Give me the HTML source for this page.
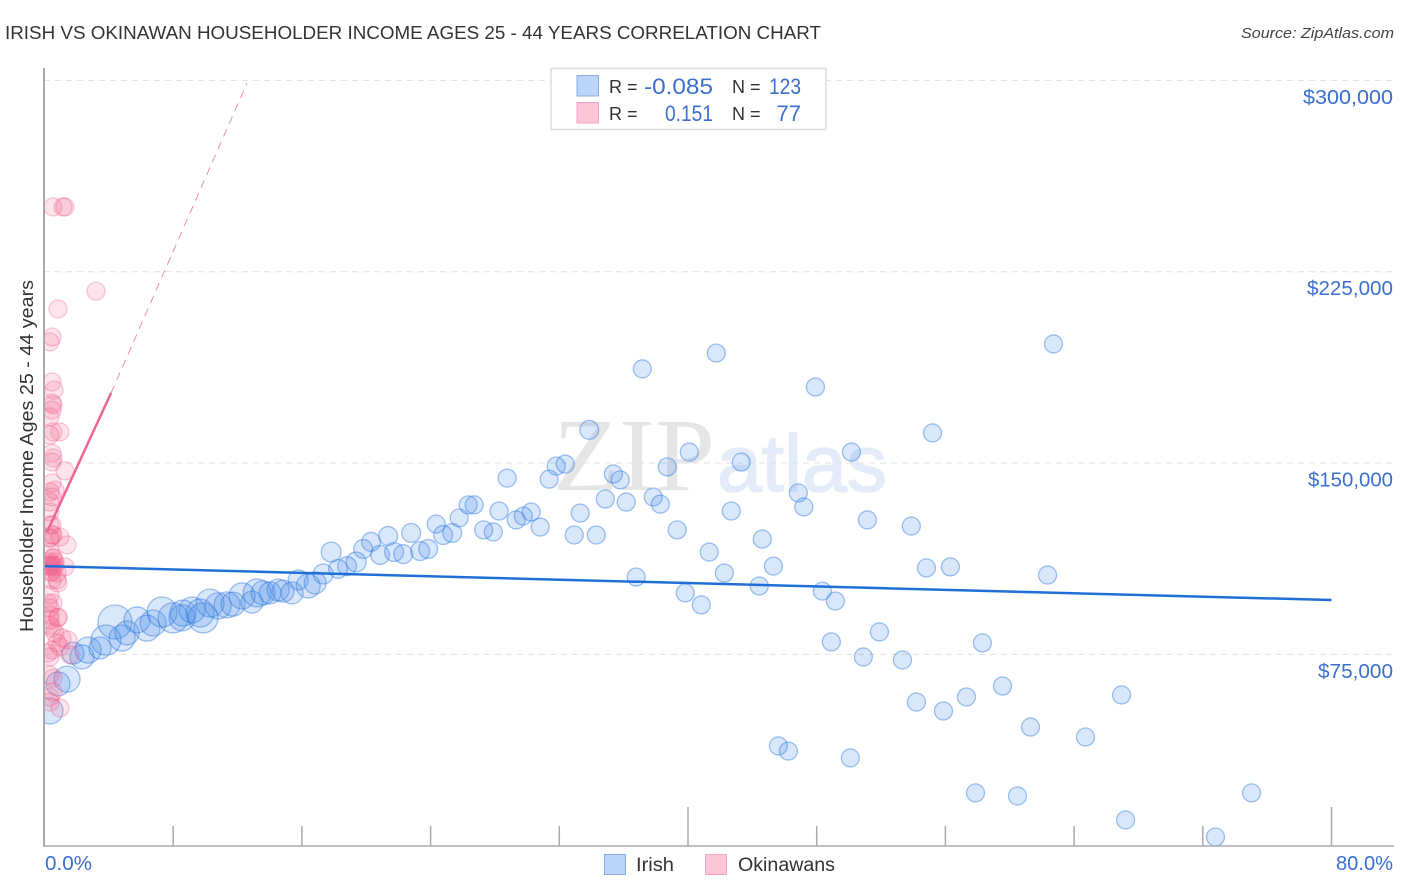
<!DOCTYPE html>
<html lang="en">
<head>
<meta charset="utf-8">
<title>Irish vs Okinawan Householder Income Correlation Chart</title>
<style>
html,body{margin:0;padding:0;background:#fff;width:1406px;height:892px;overflow:hidden}
svg{display:block;font-family:"Liberation Sans",sans-serif}
</style>
</head>
<body>
<svg id="chart" xmlns="http://www.w3.org/2000/svg" width="1406" height="892" viewBox="0 0 1406 892">
  <defs>
    <clipPath id="plot-clip"><rect x="44" y="60" width="1350" height="786"/></clipPath>
  </defs>
  <rect width="1406" height="892" fill="#fff"/>
  <text x="5" y="39" font-size="18" fill="#333" textLength="816" lengthAdjust="spacingAndGlyphs">IRISH VS OKINAWAN HOUSEHOLDER INCOME AGES 25 - 44 YEARS CORRELATION CHART</text>
  <text x="1394" y="38" font-size="15" font-style="italic" fill="#444" text-anchor="end" textLength="153" lengthAdjust="spacingAndGlyphs">Source: ZipAtlas.com</text>
  <g>
    <text x="553" y="490" font-family="'Liberation Serif',serif" font-size="104" fill="#e6e6e6" textLength="162" lengthAdjust="spacingAndGlyphs">ZIP</text>
    <text x="717" y="491" font-family="'Liberation Sans',sans-serif" font-size="80" fill="#e4ecfa" stroke="#e4ecfa" stroke-width="1.500" textLength="170" lengthAdjust="spacingAndGlyphs">atlas</text>
  </g>
  <g id="grid"></g>
  <g id="irish-points" clip-path="url(#plot-clip)"></g>
  <g id="okinawan-points" clip-path="url(#plot-clip)"></g>
  <g id="trends"></g>
  <g id="axes"></g>
  <text transform="translate(33,456) rotate(-90)" font-size="18" fill="#333" text-anchor="middle" textLength="352" lengthAdjust="spacingAndGlyphs">Householder Income Ages 25 - 44 years</text>
  <g>
    <rect x="551" y="68.500" width="275" height="61" fill="#fff" stroke="#ddd" stroke-width="1.500"/>
    <rect x="577" y="75.500" width="21.500" height="20.500" fill="#bcd5f7" stroke="#86aee0" stroke-width="1"/>
    <rect x="577" y="102.500" width="21.500" height="20.500" fill="#fcc6d6" stroke="#f2a7bf" stroke-width="1"/>
    <text x="609" y="93" font-size="18" fill="#333">R =</text>
    <text x="713" y="94" font-size="22" fill="#3b6fd0" text-anchor="end" textLength="69" lengthAdjust="spacingAndGlyphs">-0.085</text>
    <text x="732" y="93" font-size="18" fill="#333">N =</text>
    <text x="801" y="94" font-size="22" fill="#3b6fd0" text-anchor="end" textLength="32" lengthAdjust="spacingAndGlyphs">123</text>
    <text x="609" y="120" font-size="18" fill="#333">R =</text>
    <text x="713" y="121" font-size="22" fill="#3b6fd0" text-anchor="end" textLength="48" lengthAdjust="spacingAndGlyphs">0.151</text>
    <text x="732" y="120" font-size="18" fill="#333">N =</text>
    <text x="801" y="121" font-size="22" fill="#3b6fd0" text-anchor="end">77</text>
  </g>
  <g>
    <rect x="604.500" y="854.500" width="21" height="20" fill="#bcd5f7" stroke="#86aee0" stroke-width="1"/>
    <text x="636" y="871" font-size="19" fill="#333" textLength="38" lengthAdjust="spacingAndGlyphs">Irish</text>
    <rect x="705.500" y="854.500" width="21" height="20" fill="#fcc6d6" stroke="#f2a7bf" stroke-width="1"/>
    <text x="738" y="871" font-size="19" fill="#333" textLength="97" lengthAdjust="spacingAndGlyphs">Okinawans</text>
  </g>
</svg>
<script>
const yTickValues = [75000, 150000, 225000, 300000];
const yTickLabels = ["$75,000", "$150,000", "$225,000", "$300,000"];
const xTickValues = [8, 16, 24, 32, 40, 48, 56, 64, 72, 80];
const xEndLabels = ["0.0%", "80.0%"];

const irishX = [1.77,2.33,2.71,3.45,3.82,4.38,4.82,5.13,5.75,6.37,6.75,7.31,7.99,8.55,8.61,9.17,9.67,9.86,10.29,10.79,11.35,11.72,12.28,12.9,13.22,13.59,14.02,14.52,14.83,15.39,15.77,16.39,16.82,17.32,17.82,18.25,18.81,19.37,19.81,20.3,20.86,21.36,21.73,22.3,22.79,23.35,23.85,24.35,24.78,25.34,25.78,26.34,26.71,27.3,27.9,28.26,28.76,29.32,29.76,30.25,30.81,31.37,31.81,32.37,32.93,33.3,33.86,34.3,34.86,35.36,35.79,36.16,36.78,37.16,37.84,38.28,38.71,39.33,39.83,40.08,40.83,41.32,41.76,42.26,42.69,43.31,44.43,44.62,45.31,45.62,46.24,46.86,47.2,47.92,48.35,48.91,49.16,50.09,50.16,50.9,51.15,51.9,53.33,53.88,54.2,54.82,55.2,55.88,56.31,57.31,57.87,58.3,59.55,60.48,61.29,62.35,62.72,64.71,66.95,67.2,72.79,75.03,1.4,0.84,0.34];
const irishY = [75500,74000,76700,77500,80600,87700,81400,83400,88500,85300,87300,91600,89300,89300,91200,92400,91200,89300,95100,94000,94400,94700,97900,95500,99100,99100,99100,100200,99800,99100,104200,101800,103000,106500,115100,108500,109600,111200,116300,119100,114000,121400,115100,114300,122600,115500,116300,126100,121800,122600,128500,133600,133600,123800,123000,131200,144100,127700,129200,130800,124900,143700,148800,149600,121800,130400,163000,121800,135900,145700,143400,134700,105300,186900,136700,133900,148500,123800,99100,154300,94400,115100,193100,106900,131200,150400,101800,120200,109600,39100,37100,138300,132800,179800,99800,79900,95900,34400,154300,74000,127700,83800,72800,125300,56300,108900,161800,52800,109300,58300,20700,79500,62600,19500,46500,106100,196700,42600,59100,10100,3400,20700,65300,63400,52800];
const irishPop = [149,178,209,149,278,357,209,178,209,209,209,278,278,209,209,209,242,278,242,209,209,178,209,149,242,178,149,149,149,149,123,178,149,123,123,110,110,123,110,110,110,110,110,110,110,110,110,100,110,110,100,100,100,100,100,100,100,100,100,100,100,100,100,100,100,100,110,100,100,100,100,100,100,100,100,100,100,100,100,100,100,100,100,100,100,100,100,100,100,100,100,100,100,100,100,100,100,100,100,100,100,100,100,100,100,100,100,100,100,100,100,100,100,100,100,100,100,100,100,100,100,100,209,178,209];

const okinawanX = [0.53,1.15,1.27,3.2,0.84,0.47,0.34,0.47,0.59,0.47,0.53,0.47,0.34,0.96,0.53,0.34,0.47,0.53,0.47,1.27,0.47,0.65,0.34,0.47,0.34,0.34,0.47,0.53,0.34,0.96,1.4,0.34,0.53,0.34,0.65,1.27,0.34,0.78,0.47,0.84,0.34,0.22,0.53,0.34,0.84,0.34,0.34,0.84,0.47,0.34,0.78,1.09,0.47,0.96,1.46,0.34,1.59,0.34,0.53,0.34,0.53,0.96,0.34,0.22,0.47,0.59,0.65,0.34,0.47,0.53,0.34,0.78,0.34,0.47,0.65,0.22,0.34];
const okinawanY = [250400,250400,250400,217400,210400,199400,197500,181800,178600,173500,172800,170800,168100,162200,162200,161000,153900,152000,150400,146900,142200,139400,138700,136700,134700,130800,125700,121800,120600,121000,117900,115100,112800,111200,110000,109300,107300,106900,104200,103000,98300,95100,95100,93200,89600,90400,88500,89300,85300,86500,79500,81400,76700,77900,80600,74000,74800,66900,65700,58300,60300,54000,56300,110000,110000,109300,111200,109300,107300,112800,110000,104200,125700,121800,83400,75500,120600];
const okinawanPop = new Array(okinawanX.length).fill(100);

const irishTrendX = [0, 80];
const irishTrendY = [109600, 96300];
const okinawanSolidX = [0.16, 4.14];
const okinawanSolidY = [123000, 177500];
const okinawanDashX = [4.14, 12.59];
const okinawanDashY = [177500, 299000];

const yLabelWidths = [75, 85, 86, 90];
const xLabelWidths = [47, 57];

const NS = "http://www.w3.org/2000/svg";
function xScale(v) { return 44.5 + v * 16.0875; }
function yScale(v) { return 845.7 - v * 0.002551; }
function radius(p) { return 0.9 * Math.sqrt(p); }
function make(tag, attrs, parent) {
  const el = document.createElementNS(NS, tag);
  for (const k in attrs) el.setAttribute(k, attrs[k]);
  parent.appendChild(el);
  return el;
}

const grid = document.getElementById("grid");
const axes = document.getElementById("axes");
yTickValues.forEach(function (v, i) {
  const y = yScale(v);
  const line = make("line", {x1: 44, x2: 1394, y1: y, y2: y, stroke: "#e0e0e0", "stroke-width": 1, "stroke-dasharray": "6 5"}, grid);
  
  
  const label = make("text", {x: 1393, y: y + 23.5, "font-size": 20, fill: "#3b6fd0", "text-anchor": "end", textLength: yLabelWidths[i], lengthAdjust: "spacingAndGlyphs"}, axes);
  label.textContent = yTickLabels[i];
  
  
});

const yAxis = make("line", {x1: 44, x2: 44, y1: 68, y2: 846.5, stroke: "#aaa", "stroke-width": 2}, axes);


const xAxis = make("line", {x1: 43, x2: 1394, y1: 846, y2: 846, stroke: "#aaa", "stroke-width": 1.5}, axes);


xTickValues.forEach(function (v) {
  const x = xScale(v);
  const top = v % 40 === 0 ? 807 : 826;
  const tick = make("line", {x1: x, x2: x, y1: top, y2: 846, stroke: "#aaa", "stroke-width": 1.5}, axes);
  
  
});
const xStart = make("text", {x: 45, y: 870, "font-size": 20, fill: "#3b6fd0", textLength: xLabelWidths[0], lengthAdjust: "spacingAndGlyphs"}, axes);
xStart.textContent = xEndLabels[0];


const xEnd = make("text", {x: 1393, y: 870, "font-size": 20, fill: "#3b6fd0", "text-anchor": "end", textLength: xLabelWidths[1], lengthAdjust: "spacingAndGlyphs"}, axes);
xEnd.textContent = xEndLabels[1];



const irishGroup = document.getElementById("irish-points");
irishX.forEach(function (v, i) {
  const c = make("circle", {cx: xScale(v), cy: yScale(irishY[i]), r: radius(irishPop[i]), fill: "#3f88e8", "fill-opacity": 0.2, stroke: "#2f7be0", "stroke-opacity": 0.45, "stroke-width": 1.3}, irishGroup);
  
  
});

const okinawanGroup = document.getElementById("okinawan-points");
okinawanX.forEach(function (v, i) {
  const c = make("circle", {cx: xScale(v), cy: yScale(okinawanY[i]), r: radius(okinawanPop[i]), fill: "#f2628f", "fill-opacity": 0.18, stroke: "#ee5f8c", "stroke-opacity": 0.32, "stroke-width": 1.3}, okinawanGroup);
  
  
});

const trends = document.getElementById("trends");
const irishTrend = make("line", {x1: xScale(irishTrendX[0]), y1: yScale(irishTrendY[0]), x2: xScale(irishTrendX[1]), y2: yScale(irishTrendY[1]), stroke: "#1f6fd6", "stroke-width": 2.5}, trends);


const okinawanSolid = make("line", {x1: xScale(okinawanSolidX[0]), y1: yScale(okinawanSolidY[0]), x2: xScale(okinawanSolidX[1]), y2: yScale(okinawanSolidY[1]), stroke: "#ee6592", "stroke-width": 2.5}, trends);


const okinawanDash = make("line", {x1: xScale(okinawanDashX[0]), y1: yScale(okinawanDashY[0]), x2: xScale(okinawanDashX[1]), y2: yScale(okinawanDashY[1]), stroke: "#f08cab", "stroke-width": 1, "stroke-dasharray": "8 6"}, trends);


</script>
</body>
</html>
